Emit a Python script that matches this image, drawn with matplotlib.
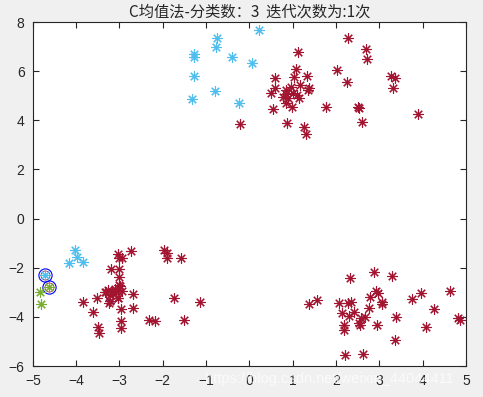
import matplotlib
matplotlib.use("Agg")
import numpy as np
import matplotlib.pyplot as plt

plt.rcParams['font.family'] = ['Liberation Sans', 'Noto Sans CJK SC', 'DejaVu Sans']

title = "C均值法-分类数：3  迭代次数为:1次"

# class 1 (dark red)
red_x = [2.28, 1.13, 2.70, 2.72, 0.59, 1.07, 1.32, 2.03, 2.26, 3.27, 3.37, 3.32, 3.90,
         0.50, 0.60, 0.84, 1.03, 1.17, 1.01, 0.78, 0.90, 1.15, 1.38, 1.36, 0.84, 0.99,
         0.55, 1.77, 2.50, 2.53, 2.60, 0.87, 1.27, 1.31, 0.84, 1.10, 0.95, -0.22,
         1.38, 1.57, 2.32, 2.88, 3.30, 2.93, 2.97, 2.78, 3.07, 3.05, 2.07, 2.27, 2.34,
         2.14, 2.29, 2.41, 2.57, 2.67, 2.77, 2.52, 2.55, 2.19, 2.19, 2.95, 3.39, 3.37,
         3.76, 3.97, 4.25, 4.64, 4.07, 4.81, 4.86, 2.21, 2.63,
         -3.03, -3.01, -2.94, -2.74, -1.98, -1.91, -1.90, -1.58, -3.20, -3.01, -3.02,
         -3.02, -3.30, -2.68, -3.03, -3.24, -3.53, -3.84, -3.61, -2.97, -2.68, -2.97,
         -2.97, -3.49, -3.47, -1.74, -2.31, -2.18, -1.51, -1.14,
         -3.34, -3.26, -3.18, -3.11, -3.03, -2.99, -2.95, -3.22, -3.03, -3.22, -3.14]
red_y = [7.34, 6.77, 6.89, 6.48, 5.71, 6.07, 5.80, 6.03, 5.55, 5.80, 5.71, 5.30, 4.24,
         5.10, 5.30, 5.23, 5.75, 5.44, 5.12, 4.93, 4.89, 4.89, 5.30, 5.23, 4.69, 4.53,
         4.45, 4.53, 4.53, 4.51, 3.92, 3.88, 3.71, 3.43, 5.07, 5.02, 5.35, 3.85,
         -3.48, -3.31, -2.43, -2.18, -2.35, -2.94, -3.04, -3.21, -3.38, -3.48, -3.45,
         -3.45, -3.38, -3.83, -3.95, -3.82, -4.06, -3.99, -3.65, -4.26, -4.33, -4.33,
         -4.54, -4.33, -4.02, -4.94, -3.27, -3.04, -3.69, -2.95, -4.43, -4.03, -4.13,
         -5.55, -5.49,
         -1.44, -1.59, -1.62, -1.32, -1.28, -1.42, -1.62, -1.62, -2.05, -2.05, -2.37,
         -2.70, -2.98, -3.07, -3.25, -3.42, -3.25, -3.38, -3.82, -3.68, -3.65, -4.16,
         -4.47, -4.40, -4.67, -3.25, -4.13, -4.16, -4.13, -3.38,
         -2.98, -2.91, -2.98, -2.88, -2.95, -2.74, -2.95, -3.36, -3.25, -3.11, -3.05]

# class 2 (light blue)
cyan_x = [-1.28, -1.28, -0.74, -0.77, 0.22, -0.40, 0.06, -1.28, -0.79, -1.32, -0.24,
          -4.03, -4.16, -3.98, -3.84, -4.71]
cyan_y = [6.68, 6.59, 7.34, 6.98, 7.66, 6.56, 6.32, 5.80, 5.19, 4.87, 4.70,
          -1.28, -1.82, -1.58, -1.78, -2.30]

# class 3 (green)
green_x = [-4.84, -4.82, -4.62]
green_y = [-2.98, -3.48, -2.80]

# cluster centres (initial)
center_x = [-4.71, -4.62, -3.18]
center_y = [-2.30, -2.80, -3.11]

asterisk = (8, 2, 0)

fig = plt.figure(figsize=(4.83, 3.97), dpi=100, facecolor='#f0f0f0')
ax = fig.add_axes([0.068, 0.078, 0.897, 0.8665])

ax.plot(center_x, center_y, 'o', ms=6.5, mfc='none', mec='#A2142F', mew=0.5, linestyle='none')
ax.plot(center_x, center_y, 'o', ms=9.5, mfc='none', mec='#0000FF', mew=0.8, linestyle='none')
ax.plot(red_x, red_y, linestyle='none', marker=asterisk, ms=7.5, mec='#A2142F', mew=0.8)
ax.plot(cyan_x, cyan_y, linestyle='none', marker=asterisk, ms=7.5, mec='#4DBEEE', mew=0.8)
ax.plot(green_x, green_y, linestyle='none', marker=asterisk, ms=7.5, mec='#77AC30', mew=0.8)

ax.set_xlim(-5, 5)
ax.set_ylim(-6, 8)
ax.set_xticks(np.arange(-5, 6, 1))
ax.set_yticks(np.arange(-6, 9, 2))
ax.tick_params(direction='in', top=True, right=True, length=4, width=0.8,
               labelsize=10, colors='#262626', pad=6)
for s in ax.spines.values():
    s.set_color('#262626')
    s.set_linewidth(0.8)

ax.set_title(title, fontsize=11, color='#262626', pad=4,
             family=['Noto Sans CJK SC', 'DejaVu Sans'])

fig.text(0.425, 0.045, "https://blog.csdn.net/weixin_44044411", fontsize=10.5,
         color='white', alpha=0.7, ha='left', va='center')

fig.savefig('out.png', dpi=100, facecolor=fig.get_facecolor())
